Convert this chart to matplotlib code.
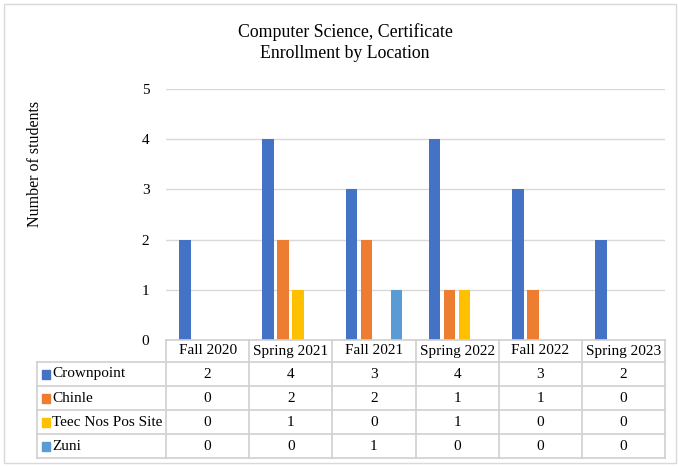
import matplotlib.pyplot as plt
from matplotlib.lines import Line2D
from matplotlib.patches import Rectangle
import numpy as np

plt.rcParams['font.family'] = ['Liberation Serif', 'DejaVu Serif']

terms = ["Fall 2020", "Spring 2021", "Fall 2021", "Spring 2022", "Fall 2022", "Spring 2023"]
locations = ["Crownpoint", "Chinle", "Teec Nos Pos Site", "Zuni"]
crownpoint = [2, 4, 3, 4, 3, 2]
chinle = [0, 2, 2, 1, 1, 0]
teec_nos_pos = [0, 1, 0, 1, 0, 0]
zuni = [0, 0, 1, 0, 0, 0]
series = [crownpoint, chinle, teec_nos_pos, zuni]
colors = ["#4472C4", "#ED7D31", "#FFC000", "#5B9BD5"]

W, H = 678, 466
fig = plt.figure(figsize=(W / 100, H / 100), dpi=100)

def fx(x):
    return x / W

def fy(y):
    return 1 - y / H

# plot area in pixels
ax_l, ax_r, ax_t, ax_b = 166, 665, 89, 340
ax = fig.add_axes([fx(ax_l), fy(ax_b), fx(ax_r) - fx(ax_l), fy(ax_t) - fy(ax_b)])

x = np.arange(len(terms))
bw, pitch = 0.14, 0.18
for i, vals in enumerate(series):
    ax.bar(x + (i - 1.5) * pitch, vals, width=bw, color=colors[i], zorder=3)

ax.set_xlim(-0.5, len(terms) - 0.5)
ax.set_ylim(0, 5)
ax.set_yticks(range(6))
ax.tick_params(axis='y', length=0, labelsize=11, pad=12)
ax.set_xticks([])
ax.yaxis.grid(True, color="#D9D9D9", linewidth=1)
for s in ax.spines.values():
    s.set_visible(False)

fig.text(fx(35), fy(164), "Number of students", rotation=90, ha='center', va='center', fontsize=11.5)
fig.text(fx(345), fy(43), "Computer Science, Certificate\nEnrollment by Location",
         ha='center', va='center', fontsize=12.8, linespacing=1.3)

# data table under the axes
grid_c = "#D0D0D0"
col_w = (ax_r - ax_l) / len(terms)
col_edges = [ax_l + k * col_w for k in range(len(terms) + 1)]
row_edges = [340, 362, 386, 410, 434, 458]
tbl_left = 37

def line(x0, y0, x1, y1):
    fig.add_artist(Line2D([fx(x0), fx(x1)], [fy(y0), fy(y1)], color=grid_c, linewidth=1.2))

for k, y in enumerate(row_edges):
    line(ax_l if k == 0 else tbl_left, y, ax_r, y)
for xe in col_edges:
    line(xe, row_edges[0], xe, row_edges[-1])
line(tbl_left, row_edges[1], tbl_left, row_edges[-1])

for j, t in enumerate(terms):
    cx = (col_edges[j] + col_edges[j + 1]) / 2
    fig.text(fx(cx), fy((row_edges[0] + row_edges[1]) / 2), t, ha='center', va='center', fontsize=11)

for i, (name, vals) in enumerate(zip(locations, series)):
    cy = (row_edges[i + 1] + row_edges[i + 2]) / 2
    fig.add_artist(Rectangle((fx(41.5), fy(cy + 4.5)), fx(9), 9 / H, color=colors[i]))
    fig.text(fx(52), fy(cy), name, ha='left', va='center', fontsize=11)
    for j, v in enumerate(vals):
        cx = (col_edges[j] + col_edges[j + 1]) / 2
        fig.text(fx(cx), fy(cy), str(v), ha='center', va='center', fontsize=11)

# outer chart border
fig.add_artist(Rectangle((fx(4), fy(463)), fx(672), 459 / H, fill=False, edgecolor="#D9D9D9", linewidth=1))

fig.savefig("out.png", dpi=100)
